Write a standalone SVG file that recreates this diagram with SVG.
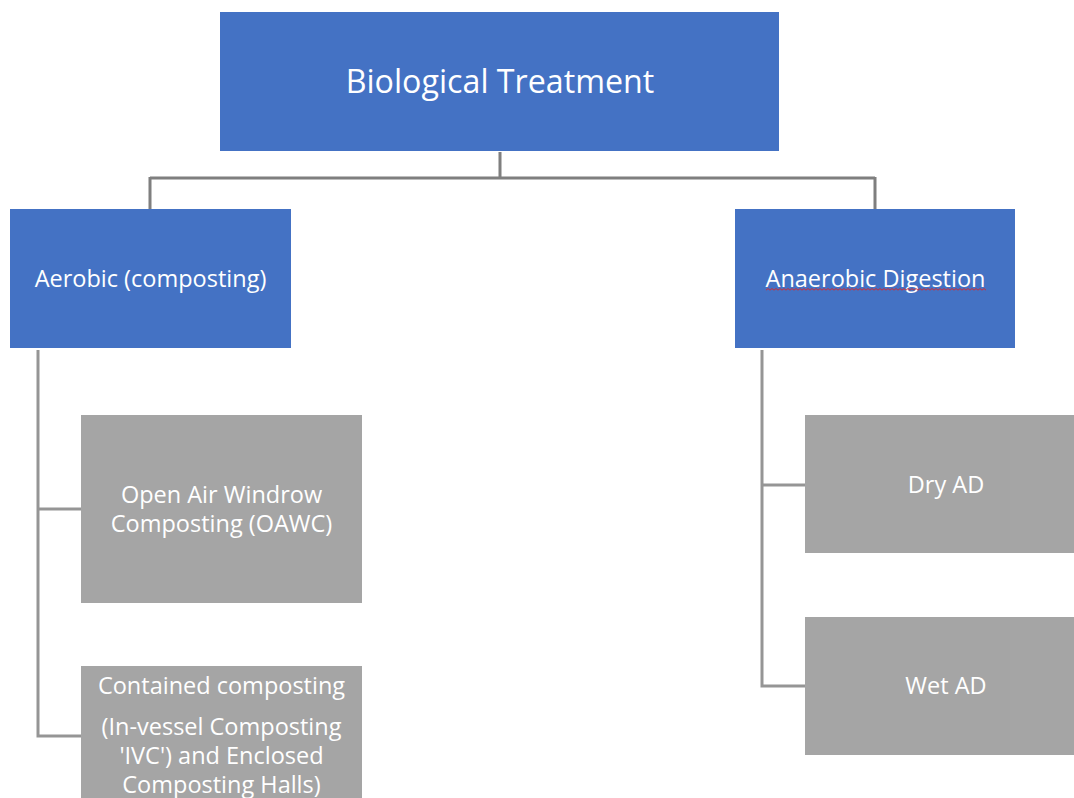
<svg xmlns="http://www.w3.org/2000/svg" width="1074" height="798" viewBox="0 0 1074 798">
  <style>
    .blue { fill: #4472C4; }
    .grey { fill: #A5A5A5; }
    .lbl { font-family: "Open Sans", "Noto Sans", sans-serif; fill: #FFFFFF; text-anchor: middle; }
    .top { stroke: #7F7F7F; stroke-width: 3; fill: none; }
    .sub { stroke: #959595; stroke-width: 3; fill: none; }
  </style>
  <defs>
    <!-- wavy red spelling underline -->
    <pattern id="squiggle" x="0" y="0" width="4" height="3" patternUnits="userSpaceOnUse">
      <path d="M0 0.5 L2 2.2 L4 0.5" stroke="#E02020" stroke-width="0.9" fill="none"/>
    </pattern>
  </defs>
  <rect width="1074" height="798" fill="#FFFFFF"/>

  <g id="connectors">
    <path class="top" d="M500 152 V178 M150 178 H875 M150 177 V209 M875 177 V209"/>
    <path class="sub" d="M38 350 V736 H81 M38 509 H81"/>
    <path class="sub" d="M762 350 V686 H805 M762 485 H805"/>
  </g>

  <g id="biological-treatment">
    <rect class="blue" x="220" y="12" width="559" height="139"/>
    <text class="lbl" x="500" y="93" font-size="32.2">Biological Treatment</text>
  </g>

  <g id="aerobic">
    <rect class="blue" x="10" y="209" width="281" height="139"/>
    <text class="lbl" x="150.5" y="287" font-size="23.5">Aerobic (composting)</text>
  </g>

  <g id="anaerobic">
    <rect class="blue" x="735" y="209" width="280" height="139"/>
    <text class="lbl" x="875.5" y="287" font-size="23.5">Anaerobic Digestion</text>
    <rect x="766" y="288" width="220" height="3" fill="url(#squiggle)"/>
  </g>

  <g id="open-air-windrow">
    <rect class="grey" x="81" y="415" width="281" height="188"/>
    <text class="lbl" font-size="23.5"><tspan x="221.5" y="503">Open Air Windrow</tspan><tspan x="221.5" y="532">Composting (OAWC)</tspan></text>
  </g>

  <g id="contained-composting">
    <rect class="grey" x="81" y="666" width="281" height="140"/>
    <text class="lbl" font-size="23.5"><tspan x="221.5" y="694">Contained composting</tspan><tspan x="221.5" y="735">(In-vessel Composting</tspan><tspan x="221.5" y="764">'IVC') and Enclosed</tspan><tspan x="221.5" y="793">Composting Halls)</tspan></text>
  </g>

  <g id="dry-ad">
    <rect class="grey" x="805" y="415" width="280" height="138"/>
    <text class="lbl" x="946" y="493" font-size="23.5">Dry AD</text>
  </g>

  <g id="wet-ad">
    <rect class="grey" x="805" y="617" width="280" height="138"/>
    <text class="lbl" x="946" y="694" font-size="23.5">Wet AD</text>
  </g>
</svg>
